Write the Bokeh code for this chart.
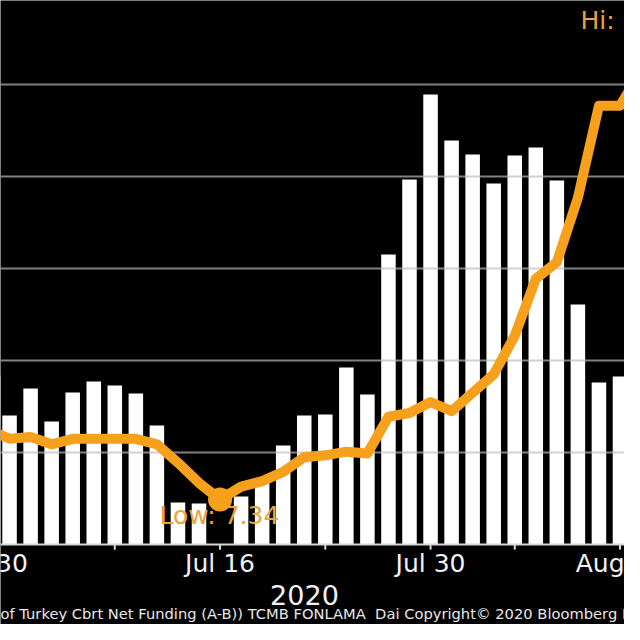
import numpy as np
from bokeh.plotting import figure
from bokeh.models import Range1d, Label, ColumnDataSource
from bokeh.core.properties import value
from bokeh.embed import file_html
from bokeh.resources import INLINE

# ---- data (business-day index; 0 = Jun 30 ... 31 = Aug 14) ----
date_label_positions = [0, 11, 21, 30]
date_labels = ["Jun 30", "Jul 16", "Jul 30", "Aug 13"]
tick_positions = [6, 11, 16, 21, 25, 30]
year_label = "2020"
source_text = "of Turkey Cbrt Net Funding (A-B)) TCMB FONLAMA \u00a0Dai Copyright\u00a9 2020 Bloomberg Fin"

# CBRT net funding (bars, bn TRY, estimated)
net_funding = [91.8, 70.1, 84.8, 66.8, 82.6, 88.6, 86.4, 82.1, 64.7, 22.8,
               22.3, np.nan, 26.1, 33.7, 53.8, 70.1, 70.7, 96.2, 81.5, 157.6,
               198.4, 244.6, 219.6, 212.0, 196.2, 211.4, 215.8, 197.8, 130.4, 88.0,
               91.3]
# average funding cost (line, %)
avg_cost = [7.72, 7.67, 7.68, 7.64, 7.67, 7.67, 7.67, 7.67, 7.64, 7.54,
            7.43, 7.34, 7.41, 7.44, 7.49, 7.57, 7.58, 7.60, 7.59, 7.79,
            7.81, 7.87, 7.82, 7.92, 8.02, 8.23, 8.54, 8.63, 8.98, 9.48,
            9.48, 9.67]
grid_values = [50, 100, 150, 200, 250]

ORANGE = "#f7a01c"
LABEL_ORANGE = "#eba43c"
TEXT = "#f2f2f2"
AXIS = "#d8d8d8"
FONT = "DejaVu Sans"

bar_x = np.arange(len(net_funding))
line_x = np.arange(len(avg_cost))
bar_vals = np.array(net_funding, dtype=float)
cost_vals = np.array(avg_cost, dtype=float)

X0, X1 = 0.570, 30.214
# the frame covers the whole canvas; the region below 0 holds the date axis
p = figure(width=624, height=624,
           x_range=Range1d(X0, X1), y_range=Range1d(-43.48, 295.65),
           x_axis_location=None, y_axis_location=None,
           toolbar_location=None, output_backend="svg",
           min_border_left=0, min_border_right=0, min_border_top=0,
           min_border_bottom=0,
           background_fill_color="black", border_fill_color="black",
           outline_line_color=None)
p.extra_y_ranges = {"rate": Range1d(6.6607, 10.052)}
for g in list(p.xgrid) + list(p.ygrid):
    g.visible = False

# bars
p.vbar(x=bar_x, top=bar_vals, bottom=0, width=0.69,
       fill_color="white", line_color=None)
# horizontal grid lines, over the bars but under the line
p.hspan(y=grid_values, line_color="#bbbbbb", line_alpha=0.69, line_width=2)

# date axis: base line, tick marks, labels
p.hspan(y=[0], line_color=AXIS, line_width=2)
p.segment(x0=tick_positions, y0=[0] * len(tick_positions),
          x1=tick_positions, y1=[-2.8] * len(tick_positions),
          line_color=AXIS, line_width=2)
date_src = ColumnDataSource(dict(x=date_label_positions,
                                 y=[-10.3] * len(date_labels),
                                 text=date_labels))
p.text(x="x", y="y", text="text", source=date_src, text_color=TEXT,
       text_font=value(FONT), text_font_size="25px",
       text_align="center", text_baseline="middle")

# average funding cost line
p.line(line_x, cost_vals, y_range_name="rate", line_color=ORANGE,
       line_width=10, line_join="round", line_cap="round")

imin = int(np.argmin(cost_vals))
imax = int(np.argmax(cost_vals))
p.scatter([line_x[imin]], [cost_vals[imin]], y_range_name="rate",
          size=24, fill_color=ORANGE, line_color=None)

p.add_layout(Label(x=line_x[imin] - 2.88, y=cost_vals[imin] - 0.087,
                   y_range_name="rate", text="Low: %.2f" % cost_vals[imin],
                   text_color=LABEL_ORANGE, text_font=FONT,
                   text_font_size="25px", text_baseline="middle",
                   text_align="left"))
p.add_layout(Label(x=28.12, y=9.943, y_range_name="rate",
                   text="Hi: %.2f" % cost_vals[imax],
                   text_color=LABEL_ORANGE, text_font=FONT,
                   text_font_size="25px", text_baseline="middle",
                   text_align="left"))

p.add_layout(Label(x=15.01, y=-27.2, text=year_label, text_color=TEXT,
                   text_font=FONT, text_font_size="27px",
                   text_align="center", text_baseline="middle"))
p.add_layout(Label(x=X0, y=-37.4, text=source_text,
                   text_color="#e8e8e8", text_font=FONT, text_font_size="14.7px",
                   text_align="left", text_baseline="middle"))

open("out.html", "w").write(file_html(p, INLINE))
